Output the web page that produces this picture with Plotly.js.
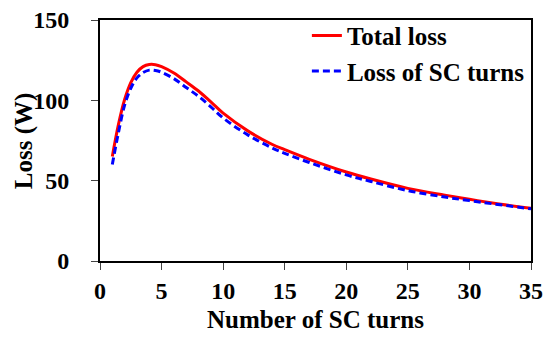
<!DOCTYPE html>
<html>
<head>
<meta charset="utf-8">
<script src="https://cdn.plot.ly/plotly-3.0.1.min.js"></script>
<style>html,body{margin:0;padding:0;background:#fff;}#chart{width:550px;height:341px;}</style>
</head>
<body>
<div id="chart"></div>
<script>
const turns = [1, 1.5, 2, 2.5, 3, 3.5, 4, 4.5, 5, 6, 7, 8, 9, 10, 12, 14, 15, 17, 20, 22, 25, 28, 30, 32, 35];
const totalLoss = [65, 85, 100.5, 111, 117.5, 121, 122.3, 122.2, 121, 117, 111.5, 105.8, 99, 92, 81, 72.5, 69.3, 63.3, 55.4, 51, 45.2, 41, 38.4, 36, 32.8];
const scLoss = [60, 80, 97, 107.5, 114, 117.3, 118.8, 118.6, 117.5, 113.5, 108, 102.5, 96, 89, 78.5, 70.3, 67, 61.3, 53.6, 49.5, 43.8, 39.8, 37.6, 35.5, 32.5];
const seriesNames = ["Total loss", "Loss of SC turns"];
const xTicks = [0, 5, 10, 15, 20, 25, 30, 35];
const yTicks = [0, 50, 100, 150];
const yTitle = "Loss (W)";

const font = {family: "Liberation Serif", color: "#000", weight: "bold"};

const traces = [
  {x: turns, y: totalLoss, name: seriesNames[0], mode: "lines",
   line: {color: "#ff0000", width: 3, shape: "spline", smoothing: 1}},
  {x: turns, y: scLoss, name: seriesNames[1], mode: "lines",
   line: {color: "#0000ff", width: 3, dash: "7px,4px", shape: "spline", smoothing: 1}}
];

const layout = {
  width: 550, height: 341,
  margin: {l: 99.5, r: 18.5, t: 20, b: 80},
  paper_bgcolor: "#fff", plot_bgcolor: "#fff",
  font: Object.assign({}, font, {size: 24}),
  showlegend: true,
  legend: {x: 0.48, y: 1.03, xanchor: "left", yanchor: "top",
    font: Object.assign({}, font, {size: 25}), bgcolor: "rgba(0,0,0,0)",
    itemwidth: 30, tracegroupgap: 0},
  xaxis: {range: [0, 35], tickvals: xTicks, ticktext: xTicks.map(String),
    ticks: "outside", ticklen: 7, tickwidth: 1, tickcolor: "#444",
    showline: true, linecolor: "#000", linewidth: 2, mirror: true,
    showgrid: false, zeroline: false, ticklabelstandoff: 0,
    tickfont: Object.assign({}, font, {size: 24}),
    title: {text: "Number of SC turns", font: Object.assign({}, font, {size: 25}), standoff: 8}},
  yaxis: {range: [0, 150], tickvals: yTicks, ticktext: yTicks.map(String),
    ticks: "outside", ticklen: 7, tickwidth: 1, tickcolor: "#444",
    showline: true, linecolor: "#000", linewidth: 2, mirror: true,
    showgrid: false, zeroline: false, ticklabelstandoff: 17,
    tickfont: Object.assign({}, font, {size: 24})},
  annotations: [{text: yTitle, textangle: -90, xref: "paper", yref: "paper",
    x: -(99.5 - 23) / 432, y: 0.5, xanchor: "center", yanchor: "middle",
    showarrow: false, font: Object.assign({}, font, {size: 25})}]
};

Plotly.newPlot("chart", traces, layout, {displayModeBar: false, staticPlot: true});
</script>
</body>
</html>
